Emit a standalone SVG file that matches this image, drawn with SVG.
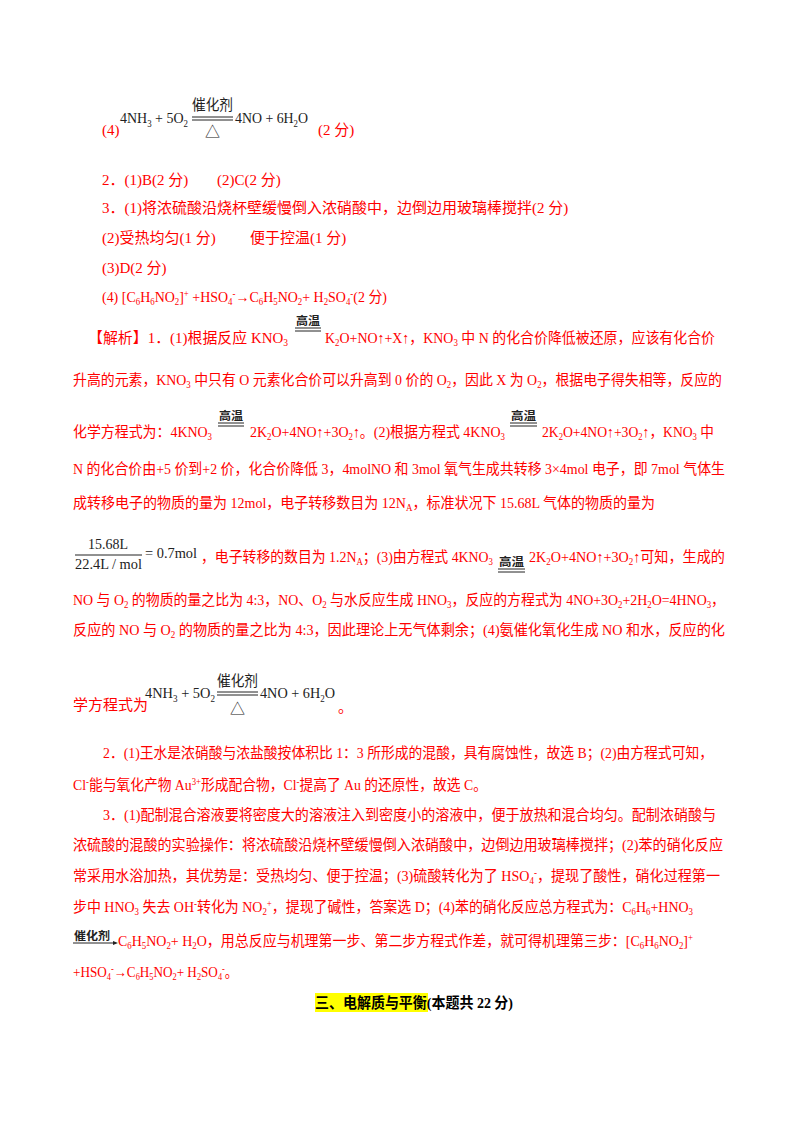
<svg xmlns="http://www.w3.org/2000/svg" width="800" height="1132" viewBox="0 0 800 1132">
<style>
text{font-family:"Liberation Serif","Noto Sans CJK SC",serif;font-size:15px}
.r{fill:#ff0000}
.k{fill:#222}
.sm{font-size:9.5px}
.gw{font-size:11px;fill:#222;font-weight:bold}
line{stroke:#222;stroke-width:1}
</style>
<rect width="800" height="1132" fill="#fff"/>
<g id="answers">
<text x="102" y="135" class="r">(4)</text>
<text x="120" y="123" class="k" textLength="68" lengthAdjust="spacingAndGlyphs">4NH<tspan class="sm" dy="4">3</tspan><tspan dy="-4"> + 5O</tspan><tspan class="sm" dy="4">2</tspan></text>
<text x="192" y="110" class="k" font-size="14" textLength="41" lengthAdjust="spacingAndGlyphs">催化剂</text>
<line x1="192" y1="117" x2="233" y2="117"/><line x1="192" y1="120" x2="233" y2="120"/>
<text x="205" y="137" class="k">△</text>
<text x="235" y="123" class="k" textLength="73" lengthAdjust="spacingAndGlyphs">4NO + 6H<tspan class="sm" dy="4">2</tspan><tspan dy="-4">O</tspan></text>
<text x="318" y="135" class="r">(2 分)</text>
<text x="102" y="185" class="r">2．(1)B(2 分)</text>
<text x="217" y="185" class="r">(2)C(2 分)</text>
<text x="102" y="213" class="r">3．(1)将浓硫酸沿烧杯壁缓慢倒入浓硝酸中，边倒边用玻璃棒搅拌(2 分)</text>
<text x="102" y="243" class="r">(2)受热均匀(1 分)</text>
<text x="250" y="243" class="r">便于控温(1 分)</text>
<text x="102" y="273" class="r">(3)D(2 分)</text>
<text x="102" y="302" class="r" textLength="285" lengthAdjust="spacingAndGlyphs">(4) [C<tspan class="sm" dy="3">6</tspan><tspan dy="-3">H</tspan><tspan class="sm" dy="3">6</tspan><tspan dy="-3">NO</tspan><tspan class="sm" dy="3">2</tspan><tspan dy="-3">]</tspan><tspan class="sm" dy="-5">+</tspan><tspan dy="5">  +HSO</tspan><tspan class="sm" dy="3">4</tspan><tspan class="sm" dy="-8">-</tspan><tspan dy="5">→C</tspan><tspan class="sm" dy="3">6</tspan><tspan dy="-3">H</tspan><tspan class="sm" dy="3">5</tspan><tspan dy="-3">NO</tspan><tspan class="sm" dy="3">2</tspan><tspan dy="-3">+ H</tspan><tspan class="sm" dy="3">2</tspan><tspan dy="-3">SO</tspan><tspan class="sm" dy="3">4</tspan><tspan class="sm" dy="-8">-</tspan><tspan dy="5">(2 分)</tspan></text>
</g>
<g id="analysis">
<text x="88" y="343" class="r" textLength="200" lengthAdjust="spacingAndGlyphs">【解析】1．(1)根据反应 KNO<tspan class="sm" dy="3">3</tspan></text>
<text x="296" y="325" class="gw" textLength="24" lengthAdjust="spacingAndGlyphs">高温</text><line x1="295" y1="328" x2="321" y2="328"/><line x1="295" y1="331" x2="321" y2="331"/>
<text x="325" y="343" class="r" textLength="390" lengthAdjust="spacingAndGlyphs">K<tspan class="sm" dy="3">2</tspan><tspan dy="-3">O+NO↑+X↑，KNO</tspan><tspan class="sm" dy="3">3</tspan><tspan dy="-3"> 中 N 的化合价降低被还原，应该有化合价</tspan></text>
<text x="73" y="385" class="r" textLength="649" lengthAdjust="spacingAndGlyphs">升高的元素，KNO<tspan class="sm" dy="3">3</tspan><tspan dy="-3"> 中只有 O 元素化合价可以升高到 0 价的 O</tspan><tspan class="sm" dy="3">2</tspan><tspan dy="-3">，因此 X 为 O</tspan><tspan class="sm" dy="3">2</tspan><tspan dy="-3">，根据电子得失相等，反应的</tspan></text>
<text x="73" y="437" class="r" textLength="139" lengthAdjust="spacingAndGlyphs">化学方程式为：4KNO<tspan class="sm" dy="3">3</tspan></text>
<text x="219" y="420" class="gw" textLength="24" lengthAdjust="spacingAndGlyphs">高温</text><line x1="218" y1="423" x2="244" y2="423"/><line x1="218" y1="426" x2="244" y2="426"/>
<text x="250" y="437" class="r" textLength="255" lengthAdjust="spacingAndGlyphs">2K<tspan class="sm" dy="3">2</tspan><tspan dy="-3">O+4NO↑+3O</tspan><tspan class="sm" dy="3">2</tspan><tspan dy="-3">↑。(2)根据方程式 4KNO</tspan><tspan class="sm" dy="3">3</tspan></text>
<text x="511" y="420" class="gw" textLength="25" lengthAdjust="spacingAndGlyphs">高温</text><line x1="510" y1="423" x2="537" y2="423"/><line x1="510" y1="426" x2="537" y2="426"/>
<text x="542" y="437" class="r" textLength="172" lengthAdjust="spacingAndGlyphs">2K<tspan class="sm" dy="3">2</tspan><tspan dy="-3">O+4NO↑+3O</tspan><tspan class="sm" dy="3">2</tspan><tspan dy="-3">↑，KNO</tspan><tspan class="sm" dy="3">3</tspan><tspan dy="-3"> 中</tspan></text>
<text x="73" y="474" class="r" textLength="652" lengthAdjust="spacingAndGlyphs">N 的化合价由+5 价到+2 价，化合价降低 3，4molNO 和 3mol 氧气生成共转移 3×4mol 电子，即 7mol 气体生</text>
<text x="73" y="508" class="r" textLength="582" lengthAdjust="spacingAndGlyphs">成转移电子的物质的量为 12mol，电子转移数目为 12N<tspan class="sm" dy="3">A</tspan><tspan dy="-3">，标准状况下 15.68L 气体的物质的量为</tspan></text>
<text x="88" y="549" class="k" font-size="14" textLength="40" lengthAdjust="spacingAndGlyphs">15.68L</text>
<line x1="75" y1="555" x2="142" y2="555"/>
<text x="75" y="569" class="k" font-size="14" textLength="67" lengthAdjust="spacingAndGlyphs">22.4L / mol</text>
<text x="145" y="558" class="k" font-size="14" textLength="52" lengthAdjust="spacingAndGlyphs">= 0.7mol</text>
<text x="201" y="562" class="r" textLength="292" lengthAdjust="spacingAndGlyphs">，电子转移的数目为 1.2N<tspan class="sm" dy="3">A</tspan><tspan dy="-3">；(3)由方程式 4KNO</tspan><tspan class="sm" dy="3">3</tspan></text>
<text x="499" y="566" class="gw" textLength="25" lengthAdjust="spacingAndGlyphs">高温</text><line x1="498" y1="569" x2="525" y2="569"/><line x1="498" y1="572" x2="525" y2="572"/>
<text x="529" y="562" class="r" textLength="196" lengthAdjust="spacingAndGlyphs">2K<tspan class="sm" dy="3">2</tspan><tspan dy="-3">O+4NO↑+3O</tspan><tspan class="sm" dy="3">2</tspan><tspan dy="-3">↑可知，生成的</tspan></text>
<text x="73" y="605" class="r" textLength="652" lengthAdjust="spacingAndGlyphs">NO 与 O<tspan class="sm" dy="3">2</tspan><tspan dy="-3"> 的物质的量之比为 4:3，NO、O</tspan><tspan class="sm" dy="3">2</tspan><tspan dy="-3"> 与水反应生成 HNO</tspan><tspan class="sm" dy="3">3</tspan><tspan dy="-3">，反应的方程式为 4NO+3O</tspan><tspan class="sm" dy="3">2</tspan><tspan dy="-3">+2H</tspan><tspan class="sm" dy="3">2</tspan><tspan dy="-3">O=4HNO</tspan><tspan class="sm" dy="3">3</tspan><tspan dy="-3">，</tspan></text>
<text x="73" y="635" class="r" textLength="652" lengthAdjust="spacingAndGlyphs">反应的 NO 与 O<tspan class="sm" dy="3">2</tspan><tspan dy="-3"> 的物质的量之比为 4:3，因此理论上无气体剩余；(4)氨催化氧化生成 NO 和水，反应的化</tspan></text>
<text x="73" y="710" class="r">学方程式为</text>
<text x="145" y="698" class="k" textLength="70" lengthAdjust="spacingAndGlyphs">4NH<tspan class="sm" dy="4">3</tspan><tspan dy="-4"> + 5O</tspan><tspan class="sm" dy="4">2</tspan></text>
<text x="217" y="686" class="k" font-size="14" textLength="41" lengthAdjust="spacingAndGlyphs">催化剂</text>
<line x1="217" y1="692" x2="258" y2="692"/><line x1="217" y1="695" x2="258" y2="695"/>
<text x="230" y="714" class="k">△</text>
<text x="260" y="698" class="k" textLength="75" lengthAdjust="spacingAndGlyphs">4NO + 6H<tspan class="sm" dy="4">2</tspan><tspan dy="-4">O</tspan></text>
<text x="338" y="712" class="r" font-size="12">。</text>
<text x="103" y="758" class="r" textLength="610" lengthAdjust="spacingAndGlyphs">2．(1)王水是浓硝酸与浓盐酸按体积比 1：3 所形成的混酸，具有腐蚀性，故选 B；(2)由方程式可知，</text>
<text x="73" y="790" class="r" textLength="414" lengthAdjust="spacingAndGlyphs">Cl<tspan class="sm" dy="-5">-</tspan><tspan dy="5">能与氧化产物 Au</tspan><tspan class="sm" dy="-5">3+</tspan><tspan dy="5">形成配合物，Cl</tspan><tspan class="sm" dy="-5">-</tspan><tspan dy="5">提高了 Au 的还原性，故选 C。</tspan></text>
<text x="103" y="820" class="r" textLength="613" lengthAdjust="spacingAndGlyphs">3．(1)配制混合溶液要将密度大的溶液注入到密度小的溶液中，便于放热和混合均匀。配制浓硝酸与</text>
<text x="73" y="850" class="r" textLength="650" lengthAdjust="spacingAndGlyphs">浓硫酸的混酸的实验操作：将浓硫酸沿烧杯壁缓慢倒入浓硝酸中，边倒边用玻璃棒搅拌；(2)苯的硝化反应</text>
<text x="73" y="881" class="r" textLength="647" lengthAdjust="spacingAndGlyphs">常采用水浴加热，其优势是：受热均匀、便于控温；(3)硫酸转化为了 HSO<tspan class="sm" dy="3">4</tspan><tspan class="sm" dy="-8">-</tspan><tspan dy="5">，提现了酸性，硝化过程第一</tspan></text>
<text x="73" y="912" class="r" textLength="620" lengthAdjust="spacingAndGlyphs">步中 HNO<tspan class="sm" dy="3">3</tspan><tspan dy="-3"> 失去 OH</tspan><tspan class="sm" dy="-5">-</tspan><tspan dy="5">转化为 NO</tspan><tspan class="sm" dy="3">2</tspan><tspan class="sm" dy="-8">+</tspan><tspan dy="5">，提现了碱性，答案选 D；(4)苯的硝化反应总方程式为：C</tspan><tspan class="sm" dy="3">6</tspan><tspan dy="-3">H</tspan><tspan class="sm" dy="3">6</tspan><tspan dy="-3">+HNO</tspan><tspan class="sm" dy="3">3</tspan></text>
<text x="74" y="940" class="gw" font-size="10" textLength="36" lengthAdjust="spacingAndGlyphs">催化剂</text>
<line x1="73" y1="943" x2="113" y2="943"/><polygon points="113,941 118,943 113,945" fill="#222"/>
<text x="118" y="946" class="r" textLength="575" lengthAdjust="spacingAndGlyphs">C<tspan class="sm" dy="3">6</tspan><tspan dy="-3">H</tspan><tspan class="sm" dy="3">5</tspan><tspan dy="-3">NO</tspan><tspan class="sm" dy="3">2</tspan><tspan dy="-3">+ H</tspan><tspan class="sm" dy="3">2</tspan><tspan dy="-3">O，用总反应与机理第一步、第二步方程式作差，就可得机理第三步：[C</tspan><tspan class="sm" dy="3">6</tspan><tspan dy="-3">H</tspan><tspan class="sm" dy="3">6</tspan><tspan dy="-3">NO</tspan><tspan class="sm" dy="3">2</tspan><tspan dy="-3">]</tspan><tspan class="sm" dy="-5">+</tspan></text>
<text x="73" y="977" class="r" textLength="165" lengthAdjust="spacingAndGlyphs">+HSO<tspan class="sm" dy="3">4</tspan><tspan class="sm" dy="-8">-</tspan><tspan dy="5">→C</tspan><tspan class="sm" dy="3">6</tspan><tspan dy="-3">H</tspan><tspan class="sm" dy="3">5</tspan><tspan dy="-3">NO</tspan><tspan class="sm" dy="3">2</tspan><tspan dy="-3">+ H</tspan><tspan class="sm" dy="3">2</tspan><tspan dy="-3">SO</tspan><tspan class="sm" dy="3">4</tspan><tspan class="sm" dy="-8">-</tspan><tspan dy="5">。</tspan></text>
</g>
<g id="heading">
<rect x="315" y="993" width="113" height="19" fill="#ffff00"/>
<text x="315" y="1008" font-weight="bold" fill="#000" textLength="198" lengthAdjust="spacingAndGlyphs">三、电解质与平衡(本题共 22 分)</text>
</g>
</svg>
